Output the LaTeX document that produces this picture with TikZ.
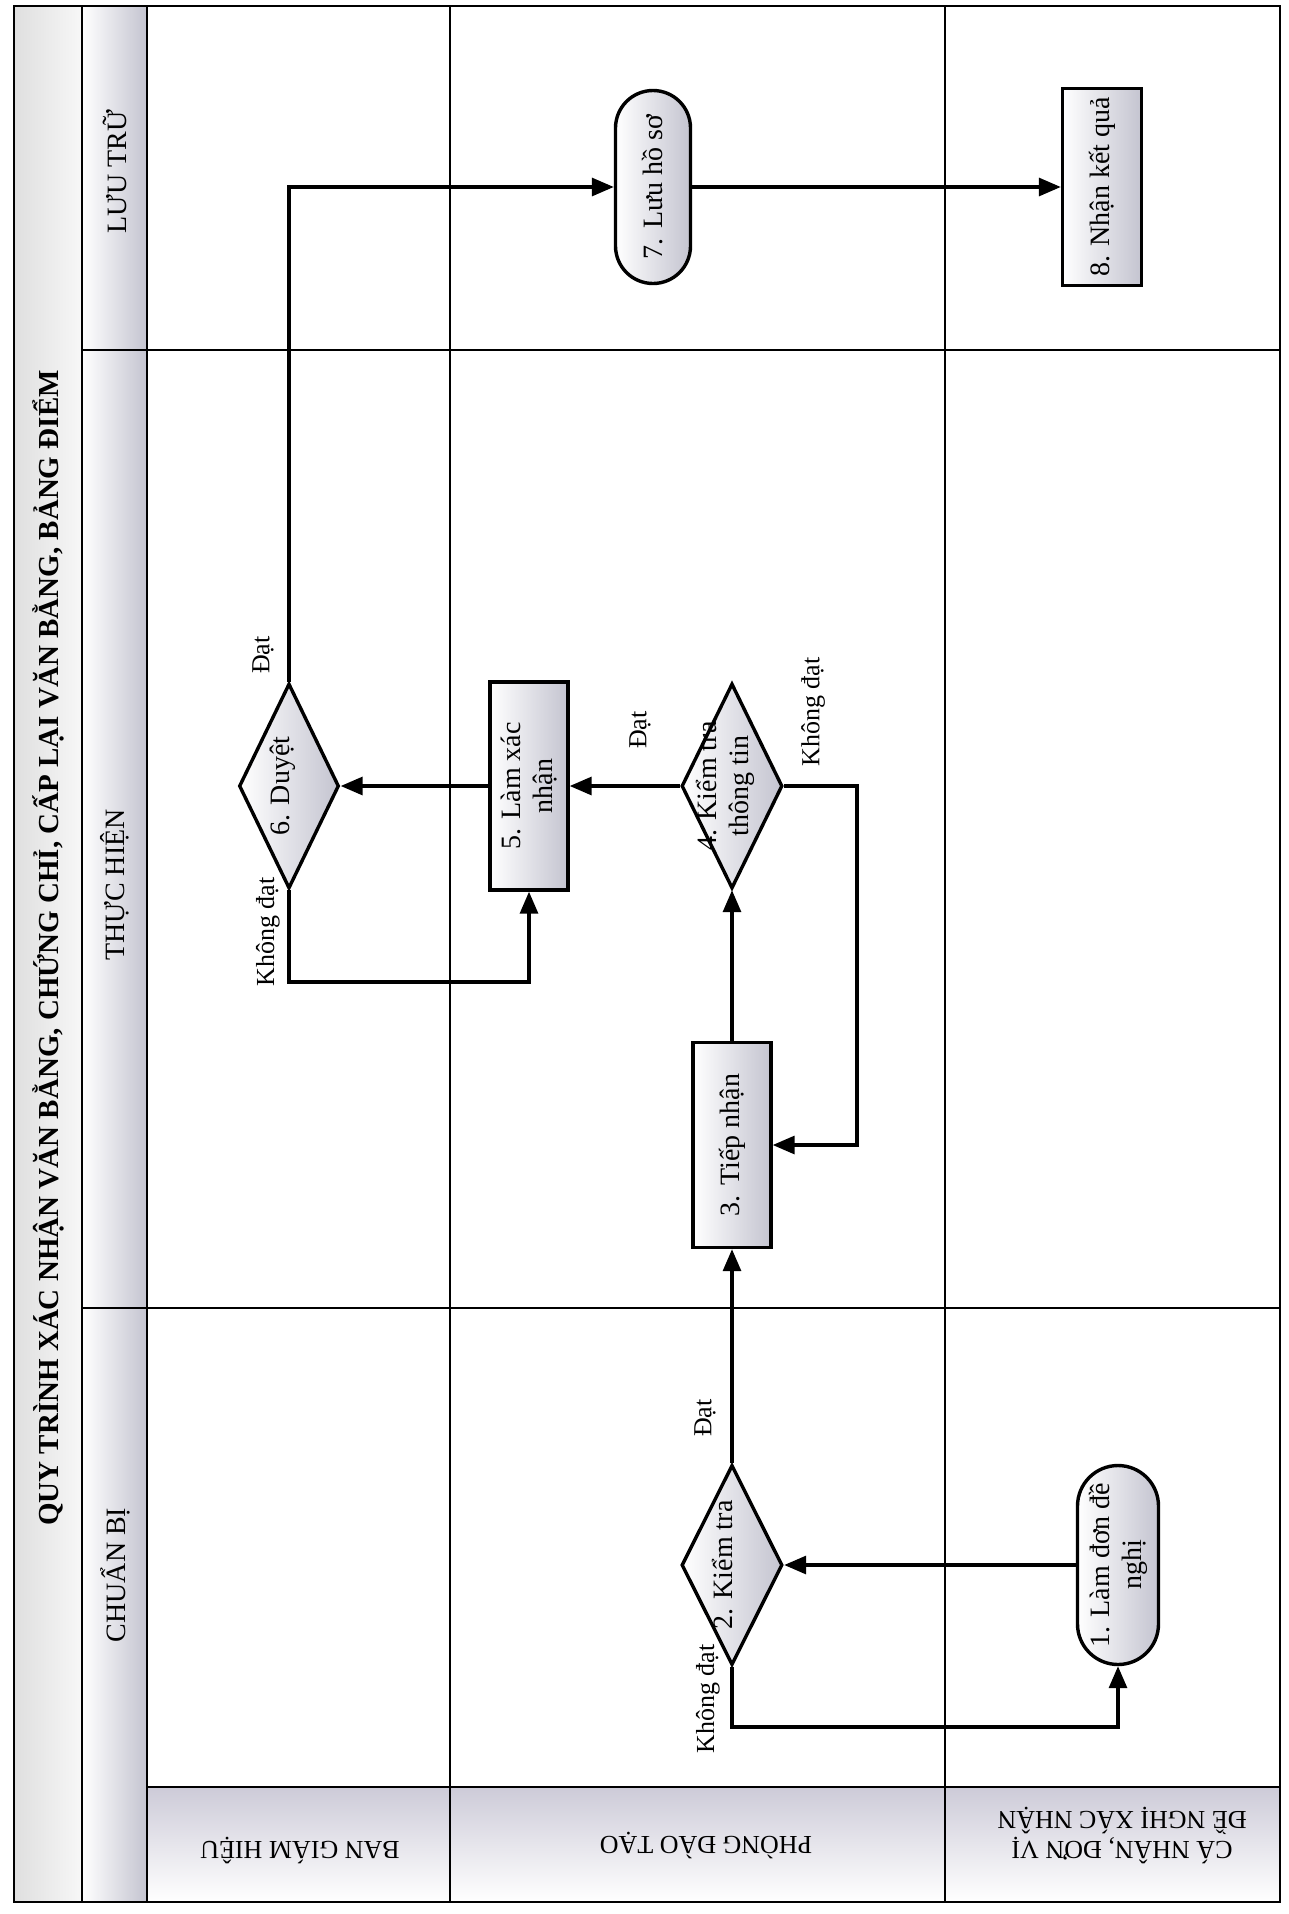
\documentclass[tikz,border=0pt]{standalone}
\usepackage{fontspec}
\setmainfont{Liberation Serif}
\usetikzlibrary{shapes.geometric,shapes.misc,arrows.meta}
\newcommand\fsnode{\fontsize{28}{32}\selectfont}
\newcommand\fslab{\fontsize{26}{30}\selectfont}
\newcommand\fstitle{\fontsize{29}{33}\selectfont\bfseries}
\newcommand\dtx[1]{\smash{\makebox[0pt]{\begin{tabular}{@{}c@{}}#1\end{tabular}}}}
\definecolor{shadegray}{RGB}{196,196,208}
\definecolor{bandgray}{RGB}{205,203,216}
\begin{document}
\begin{tikzpicture}[x=1pt,y=-1pt,
  gridline/.style={line width=2pt},
  procbox/.style={draw, line width=3.4pt, rectangle, rotate=90, inner sep=2pt, align=center, font=\fsnode, left color=white, right color=shadegray},
  termbox/.style={procbox, rounded rectangle},
  decbox/.style={procbox, diamond, inner sep=0pt},
  conn/.style={line width=3.2pt, -{Triangle[length=22pt,width=18pt]}},
  lab/.style={rotate=90, font=\fslab, inner sep=0pt},
  head/.style={rotate=90, font=\fsnode, inner sep=0pt},
  lane/.style={rotate=180, font=\fslab, inner sep=0pt, align=center},
]
\fill[white] (0,0) rectangle (1288,1914);
\useasboundingbox (0,0) rectangle (1288,1914);

% shaded columns and band
\shade[left color=gray!25, right color=gray!6] (14,6) rectangle (82,1902);
\shade[left color=white, right color=shadegray] (82,6) rectangle (147,1902);
\shade[top color=bandgray, bottom color=white] (147,1787) rectangle (1280,1902);

% grid
\draw[gridline] (14,6) rectangle (1280,1902);
\draw[gridline] (82,6) -- (82,1902);
\draw[gridline] (147,6) -- (147,1902);
\draw[gridline] (82,350) -- (1280,350);
\draw[gridline] (82,1308) -- (1280,1308);
\draw[gridline] (147,1787) -- (1280,1787);
\draw[gridline] (450,6) -- (450,1902);
\draw[gridline] (945,6) -- (945,1902);

% title and headers
\node[rotate=90, font=\fstitle, inner sep=0pt] (title) at (48,948) {QUY TRÌNH XÁC NHẬN VĂN BẰNG, CHỨNG CHỈ, CẤP LẠI VĂN BẰNG, BẢNG ĐIỂM};
\node[head] (hLT) at (115,172) {LƯU TRỮ};
\node[head] (hTH) at (115,885) {THỰC HIỆN};
\node[head] (hCB) at (115,1575) {CHUẨN BỊ};
\node[lane] (lBGH) at (300,1850) {BAN GIÁM HIỆU};
\node[lane] (lPDT) at (706,1845) {PHÒNG ĐÀO TẠO};
\node[lane] (lCN) at (1122,1835) {CÁ NHÂN, ĐƠN VỊ\\ĐỀ NGHỊ XÁC NHẬN};

% process nodes
\node[termbox, minimum width=197pt, minimum height=75pt] (n7) at (653,187) {7. Lưu hồ sơ};
\node[procbox, minimum width=197pt, minimum height=79pt] (n8) at (1102,187) {8. Nhận kết quả};
\node[decbox, minimum width=205pt, minimum height=100pt] (n6) at (289,786) {\dtx{6. Duyệt}};
\node[procbox, minimum width=208pt, minimum height=78pt] (n5) at (529,786) {5. Làm xác\\nhận};
\node[decbox, minimum width=205pt, minimum height=101pt] (n4) at (732,786) {\dtx{4. Kiểm tra\\thông tin}};
\node[procbox, minimum width=205pt, minimum height=78pt] (n3) at (732,1145) {3. Tiếp nhận};
\node[decbox, minimum width=200pt, minimum height=101pt] (n2) at (732,1565) {\dtx{2. Kiểm tra}};
\node[termbox, minimum width=203pt, minimum height=81pt] (n1) at (1118,1565) {1. Làm đơn đề\\nghị};

% helper coordinates
\coordinate (k2) at (0,1727);
\coordinate (k4) at (857,1000);
\coordinate (k6) at (0,982);

% connectors
\draw[conn] (n1.north) -- (n2.south);
\draw[conn] (n2.west) -- (n2.west |- k2) -| (n1.west);
\draw[conn] (n2.east) -- (n3.west);
\draw[conn] (n3.east) -- (n4.west);
\draw[conn] (n4.north) -- (n5.south);
\draw[conn] (n4.south) -| (k4) |- (n3.south);
\draw[conn] (n5.north) -- (n6.south);
\draw[conn] (n6.west) -- (n6.west |- k6) -| (n5.west);
\draw[conn] (n6.east) |- (n7.north);
\draw[conn] (n7.south) -- (n8.north);

% branch labels
\node[lab] (l6a) at (263,655) {Đạt};
\node[lab] (l6b) at (268,932) {Không đạt};
\node[lab] (l4a) at (640,730) {Đạt};
\node[lab] (l4b) at (813,712) {Không đạt};
\node[lab] (l2a) at (705,1418) {Đạt};
\node[lab] (l2b) at (708,1699) {Không đạt};
\end{tikzpicture}
\end{document}
